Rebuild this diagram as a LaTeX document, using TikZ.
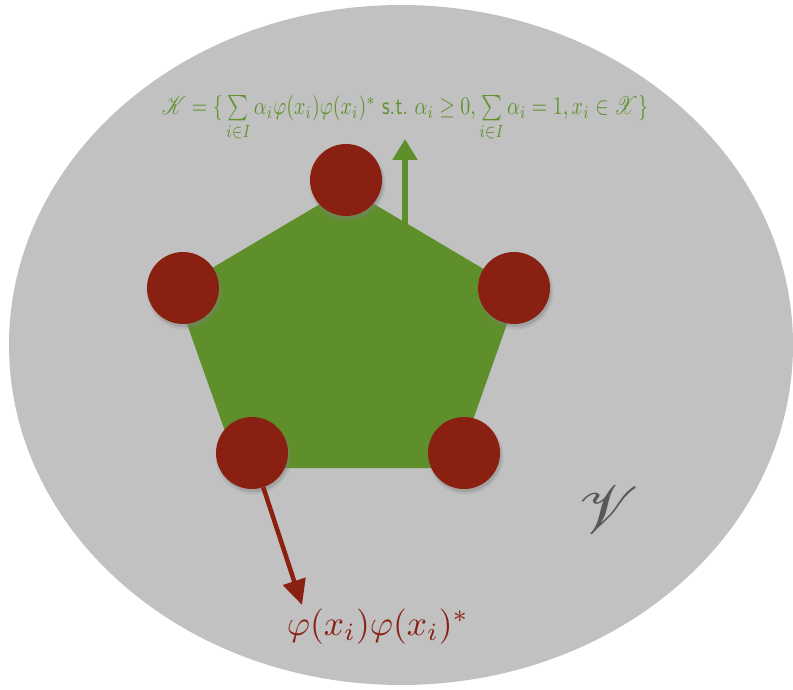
\documentclass[tikz,border=0pt]{standalone}
\usepackage{amsmath,amssymb}
\usepackage{mathrsfs}
\usetikzlibrary{arrows.meta,shadows}
\definecolor{spacegray}{RGB}{193,193,193}
\definecolor{pentgreen}{RGB}{94,143,42}
\definecolor{txtgreen}{RGB}{96,146,46}
\definecolor{dotred}{RGB}{137,32,18}
\definecolor{vgray}{RGB}{88,88,88}
\tikzset{
  vert/.style={circle, fill=dotred, minimum size=72pt, inner sep=0pt,
    drop shadow={shadow xshift=1.5pt, shadow yshift=-3.5pt, opacity=.18, shadow scale=1.05},
    drop shadow={shadow xshift=1.5pt, shadow yshift=-3pt, opacity=.35}},
  garrow/.style={draw=pentgreen, line width=5.5pt, -{Triangle[width=24pt,length=21pt]}},
  rarrow/.style={draw=dotred, line width=4.5pt, -{Triangle[width=23pt,length=25pt]}},
  lbl/.style={inner sep=0pt, outer sep=0pt}
}
\begin{document}
\begin{tikzpicture}[x=1pt,y=-1pt]
\useasboundingbox (0,0) rectangle (793,690);
% ambient space
\fill[spacegray] (401,345) ellipse [x radius=392, y radius=340];
% convex set K
\fill[pentgreen] (347,188) -- (519,290) -- (456,468) -- (238,468) -- (175,290) -- cycle;
% extreme points
\node[vert] (v1) at (346,180) {};
\node[vert] (v2) at (514,288) {};
\node[vert] (v3) at (464,453) {};
\node[vert] (v4) at (252,453) {};
\node[vert] (v5) at (183,288) {};
% arrows
\coordinate (gstart) at (405,228);
\coordinate (gtip) at (405,139);
\draw[garrow] (gstart) -- (gtip);
\coordinate (rtip) at (302,605);
\draw[rarrow] (v4) -- (rtip);
% labels
\node[lbl, anchor=base, text=txtgreen] (kset) at (405,115)
  {\resizebox{486pt}{19pt}{$\mathscr{K}=\{\,\textstyle\sum\limits_{i\in I}\alpha_i\varphi(x_i)\varphi(x_i)^*\ \textsf{s.t.}\ \alpha_i\geq 0,\sum\limits_{i\in I}\alpha_i=1, x_i\in\mathscr{X}\}$}};
\node[lbl, anchor=base, text=dotred] (plabel) at (378,635)
  {\resizebox{182pt}{!}{$\varphi(x_i)\varphi(x_i)^*$}};
\node[lbl, text=vgray] (vspace) at (609,510)
  {\resizebox{!}{47pt}{$\mathscr{V}$}};
\end{tikzpicture}
\end{document}
